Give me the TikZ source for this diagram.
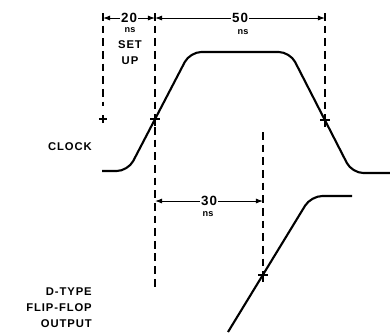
\documentclass[tikz,border=0pt]{standalone}
\usepackage{fontspec}
\setmainfont{Liberation Sans}
\newfontfamily\lblfont[LetterSpace=8]{Liberation Sans}
\usetikzlibrary{arrows.meta}

\begin{document}
\begin{tikzpicture}[x=0.025cm, y=-0.025cm,
    wave/.style={line width=1.5pt, rounded corners=8pt, line join=round},
    guide/.style={line width=1.1pt, dash pattern=on 5.5pt off 3.5pt},
    dimline/.style={line width=0.7pt, {Latex[length=5pt,width=3.6pt]}-{Latex[length=5pt,width=3.6pt]}},
    value/.style={font=\lblfont\bfseries\fontsize{9.5}{9.5}\selectfont, fill=white, inner sep=1pt},
    unit/.style={font=\bfseries\fontsize{6.5}{6.5}\selectfont, inner sep=0pt},
    sig/.style={font=\lblfont\bfseries\fontsize{8}{11.3}\selectfont, align=right, anchor=east, inner sep=0pt},
    tick/.style={line width=1pt}]
    \useasboundingbox (0,0) rectangle (390,332);

    % reference points
    \coordinate (setL) at (103,18);
    \coordinate (clkT) at (155,18);
    \coordinate (fallT) at (325,18);
    \coordinate (setX) at (103,119);
    \coordinate (clkX) at (155,119);
    \coordinate (fallX) at (325,120);
    \coordinate (outX) at (263,275);
    \coordinate (holdL) at (155,201);
    \coordinate (holdR) at (263,201);

    % dashed guides
    \draw[guide] (103,13) -- (103,106);
    \draw[guide] (155,13) -- (155,290);
    \draw[guide] (325,13) -- (fallX);
    \draw[guide] (263,132) -- (outX);

    % waveforms
    \draw[wave] (102,171) -- (128,171) -- (190,52) -- (290,52) -- (352,173) -- (390,173);
    \draw[wave] (228,332) -- (311,196) -- (352,196);

    % crossing marks
    \draw[tick] ([xshift=-3pt]setX) -- ([xshift=3pt]setX) ([yshift=-3pt]setX) -- ([yshift=3pt]setX);
    \foreach \p in {clkX, fallX, outX}
        \draw[tick] ([xshift=-3.5pt]\p) -- ([xshift=3.5pt]\p) ([yshift=-5pt]\p) -- ([yshift=3pt]\p);

    % timing
    \draw[dimline] (setL) -- (clkT) node[midway, value] (t20) {20};
    \node[unit] (u20) at (130,30) {ns};
    \node[sig, anchor=center, align=center] (setup) at (130,53) {SET\\UP};
    \draw[dimline] (clkT) -- (fallT) node[midway, value] (t50) {50};
    \node[unit] (u50) at (243,32) {ns};
    \draw[dimline] (holdL) -- (holdR) node[midway, value] (t30) {30};
    \node[unit] (u30) at (208,214) {ns};

    % signal names
    \node[sig] (clock) at (92,147) {CLOCK};
    \node[sig] (dout) at (92,308) {D-TYPE\\FLIP-FLOP\\OUTPUT};
\end{tikzpicture}
\end{document}
